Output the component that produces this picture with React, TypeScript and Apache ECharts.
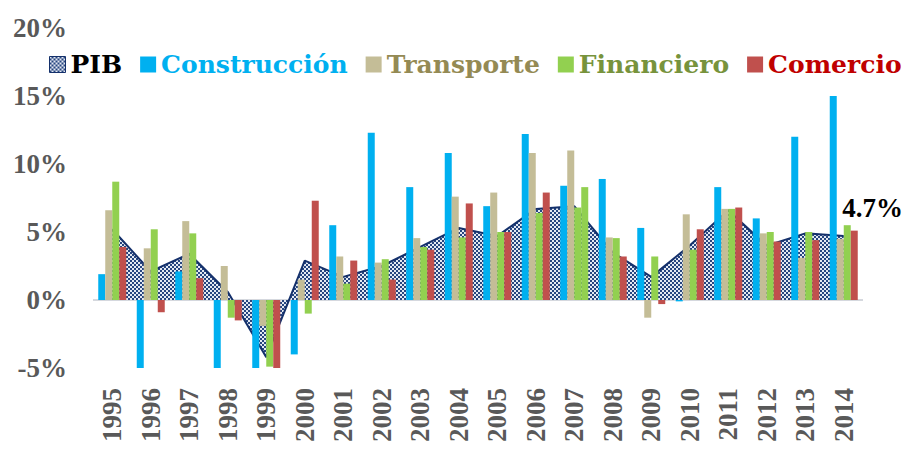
import React, { useEffect, useRef } from 'react';
import * as echarts from 'echarts';

const years = ['1995', '1996', '1997', '1998', '1999', '2000', '2001', '2002', '2003', '2004', '2005', '2006', '2007', '2008', '2009', '2010', '2011', '2012', '2013', '2014'];
const pib = [5.2, 2.1, 3.4, 0.6, -4.2, 2.9, 1.7, 2.5, 3.9, 5.3, 4.7, 6.7, 6.9, 3.5, 1.7, 4.0, 6.6, 4.0, 4.9, 4.7];
const construccion = [1.9, -6.0, 2.1, -8.0, -20.0, -4.0, 5.5, 12.3, 8.3, 10.8, 6.9, 12.2, 8.4, 8.9, 5.3, -0.1, 8.3, 6.0, 12.0, 15.0];
const transporte = [6.6, 3.8, 5.8, 2.5, -1.9, 1.5, 3.2, 2.75, 4.55, 7.6, 7.9, 10.8, 11.0, 4.6, -1.3, 6.3, 6.7, 4.9, 3.1, 4.5];
const financiero = [8.7, 5.2, 4.9, -1.3, -4.9, -1.0, 1.2, 3.0, 3.9, 4.6, 5.0, 6.4, 6.8, 4.55, 3.2, 3.7, 6.7, 5.0, 5.0, 5.5];
const comercio = [3.9, -0.9, 1.6, -1.5, -5.6, 7.3, 2.9, 1.5, 3.7, 7.1, 5.0, 7.9, 8.3, 3.2, -0.3, 5.2, 6.8, 4.3, 4.4, 5.1];
const yTicks = [-5, 0, 5, 10, 15, 20];

const C_CONS = '#00B0F0';
const C_TRANS = '#C4BD97';
const C_FIN = '#92D050';
const C_COM = '#C0504D';
const NAVY = '#14306B';
const AXIS_FONT = '"Liberation Serif", serif';
const LEGEND_FONT = '"DejaVu Serif", serif';

export default function App() {
  const ref = useRef<HTMLDivElement>(null);
  useEffect(() => {
    document.body.style.margin = '0';
    const el = ref.current as HTMLDivElement;
    const chart = echarts.init(el, null, { renderer: 'svg' });

    const cv = document.createElement('canvas');
    cv.width = 4;
    cv.height = 4;
    const ctx = cv.getContext('2d') as CanvasRenderingContext2D;
    ctx.fillStyle = '#26457F';
    ctx.fillRect(0, 0, 4, 4);
    ctx.fillStyle = '#E4E9F2';
    ctx.fillRect(0, 0, 2, 2);
    ctx.fillRect(2, 2, 2, 2);
    const pattern: any = { image: cv, repeat: 'repeat' };

    const last = years.length - 1;
    const barCommon = {
      type: 'bar',
      barWidth: 7,
      barGap: '0%',
      z: 3,
    };

    chart.setOption({
      animation: false,
      grid: { left: 93, right: 44, top: 28, bottom: 81, containLabel: false },
      legend: {
        left: 44,
        top: 47,
        itemWidth: 16,
        itemHeight: 16,
        itemGap: 18,
        textStyle: { fontFamily: LEGEND_FONT, fontWeight: 'bold', fontSize: 25 },
        data: [
          { name: 'PIB', icon: 'rect', itemStyle: { color: pattern, borderColor: NAVY, borderWidth: 1 }, textStyle: { color: '#000000' } },
          { name: 'Construcción', icon: 'rect', textStyle: { color: '#00B0F0' } },
          { name: 'Transporte', icon: 'rect', textStyle: { color: '#948A54' } },
          { name: 'Financiero', icon: 'rect', textStyle: { color: '#77933C' } },
          { name: 'Comercio', icon: 'rect', textStyle: { color: '#C00000' } },
        ],
      },
      xAxis: {
        type: 'category',
        data: years,
        boundaryGap: true,
        axisLine: { show: false, onZero: false },
        axisTick: { show: false },
        axisLabel: {
          rotate: 90,
          interval: 0,
          margin: 20,
          color: '#595959',
          fontFamily: AXIS_FONT,
          fontWeight: 'bold',
          fontSize: 27,
        },
        splitLine: { show: false },
      },
      yAxis: {
        type: 'value',
        min: yTicks[0],
        max: yTicks[yTicks.length - 1],
        interval: 5,
        axisLine: { show: false },
        axisTick: { show: false },
        axisLabel: {
          formatter: '{value}%',
          margin: 26,
          color: '#595959',
          fontFamily: AXIS_FONT,
          fontWeight: 'bold',
          fontSize: 27,
        },
        splitLine: {
          show: true,
          lineStyle: {
            color: yTicks.map((t) => (t === 0 ? '#D5D8DE' : 'rgba(0,0,0,0)')),
            width: 2,
          },
        },
      },
      series: [
        {
          name: 'PIB',
          type: 'line',
          data: pib,
          z: 2,
          symbol: 'none',
          showSymbol: false,
          color: NAVY,
          lineStyle: { color: NAVY, width: 2 },
          itemStyle: { color: NAVY },
          areaStyle: { color: pattern, opacity: 1 },
          markPoint: {
            z: 10,
            symbol: 'circle',
            symbolSize: 1,
            itemStyle: { color: 'rgba(0,0,0,0)' },
            silent: true,
            data: [{ coord: [years[last], pib[last]], value: pib[last] }],
            label: {
              show: true,
              position: 'right',
              distance: 0,
              offset: [-2, -28],
              formatter: (p: any) => p.value.toFixed(1) + '%',
              color: '#000000',
              fontFamily: AXIS_FONT,
              fontWeight: 'bold',
              fontSize: 27,
            },
          },
        },
        { ...barCommon, name: 'Construcción', data: construccion, itemStyle: { color: C_CONS } },
        { ...barCommon, name: 'Transporte', data: transporte, itemStyle: { color: C_TRANS } },
        { ...barCommon, name: 'Financiero', data: financiero, itemStyle: { color: C_FIN } },
        {
          ...barCommon,
          name: 'Comercio',
          data: comercio.map((v, i) => (years[i] === '2007' ? { value: v, itemStyle: { color: C_FIN } } : v)),
          itemStyle: { color: C_COM },
        },
      ],
    });

    return () => {
      chart.dispose();
    };
  }, []);

  return <div ref={ref} style={{ width: 907, height: 449 }} />;
}
